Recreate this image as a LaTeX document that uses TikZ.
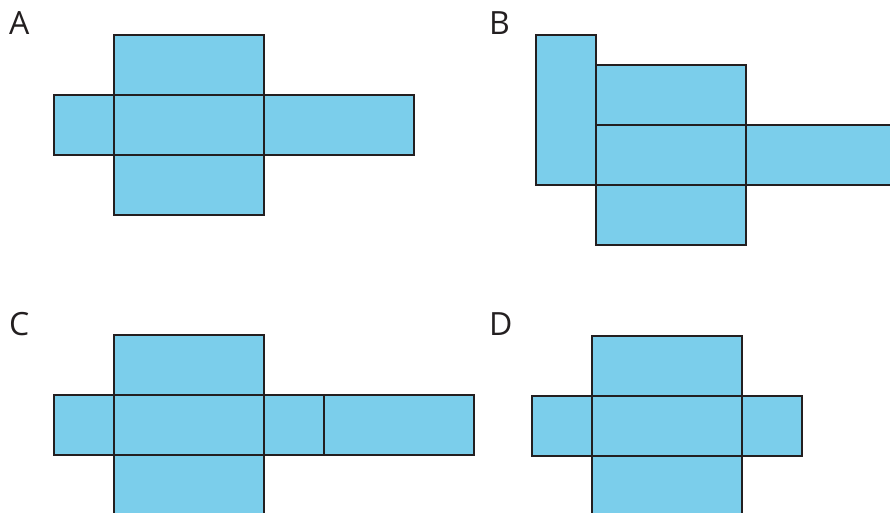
\documentclass[tikz,border=0pt]{standalone}
\usepackage{fontspec}
\setmainfont{Open Sans}
\definecolor{netblue}{HTML}{7BCEEB}
\definecolor{netline}{HTML}{231F20}
\begin{document}
\begin{tikzpicture}[x=1pt,y=-1pt,
  face/.style={fill=netblue,draw=netline,line width=2pt,line join=miter},
  lbl/.style={anchor=base west,inner sep=0pt,font=\fontsize{32}{32}\selectfont,text=netline}]
\useasboundingbox (0,0) rectangle (890,513);
\clip (0,0) rectangle (890,513);
% A
\node[lbl] (la) at (9,35) {A};
\draw[face] (114,35) rectangle (264,95);
\draw[face] (54,95) rectangle (114,155);
\draw[face] (114,95) rectangle (264,155);
\draw[face] (264,95) rectangle (414,155);
\draw[face] (114,155) rectangle (264,215);
% B
\node[lbl] (lb) at (489,35) {B};
\draw[face] (536,35) rectangle (596,185);
\draw[face] (596,65) rectangle (746,125);
\draw[face] (596,125) rectangle (746,185);
\draw[face] (746,125) rectangle (896,185);
\draw[face] (596,185) rectangle (746,245);
% C
\node[lbl] (lc) at (9,335) {C};
\draw[face] (114,335) rectangle (264,395);
\draw[face] (54,395) rectangle (114,455);
\draw[face] (114,395) rectangle (264,455);
\draw[face] (264,395) rectangle (324,455);
\draw[face] (324,395) rectangle (474,455);
\draw[face] (114,455) rectangle (264,530);
% D
\node[lbl] (ld) at (489,335) {D};
\draw[face] (592,336) rectangle (742,396);
\draw[face] (532,396) rectangle (592,456);
\draw[face] (592,396) rectangle (742,456);
\draw[face] (742,396) rectangle (802,456);
\draw[face] (592,456) rectangle (742,530);
\end{tikzpicture}
\end{document}
